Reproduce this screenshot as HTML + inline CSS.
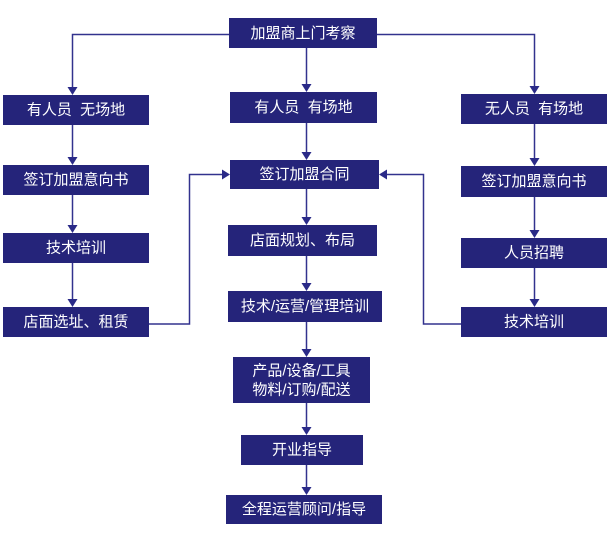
<!DOCTYPE html>
<html><head><meta charset="utf-8"><style>
html,body{margin:0;padding:0;background:#fff;width:610px;height:546px;overflow:hidden}
svg{display:block}
text{font-family:"Liberation Sans","Noto Sans CJK SC",sans-serif;font-size:15px;fill:#fff;text-anchor:middle;dominant-baseline:central}
</style></head><body>
<svg width="610" height="546" viewBox="0 0 610 546" xmlns="http://www.w3.org/2000/svg">
<g fill="#25247a">
<rect x="229" y="18" width="148" height="30"/>
<rect x="3" y="95" width="146" height="30"/>
<rect x="230" y="92" width="147" height="31"/>
<rect x="461" y="94" width="146" height="30"/>
<rect x="3" y="165" width="146" height="30"/>
<rect x="230" y="160" width="149" height="29"/>
<rect x="461" y="166" width="146" height="31"/>
<rect x="3" y="233" width="146" height="30"/>
<rect x="228" y="225" width="149" height="31"/>
<rect x="461" y="238" width="146" height="30"/>
<rect x="3" y="307" width="146" height="30"/>
<rect x="228" y="291" width="154" height="31"/>
<rect x="461" y="307" width="146" height="30"/>
<rect x="233" y="357" width="137" height="46"/>
<rect x="241" y="435" width="122" height="30"/>
<rect x="226" y="495" width="156" height="29"/>
</g>
<g stroke="#32328e" stroke-width="1.5" fill="none">
<polyline points="229,34.5 72.5,34.5 72.5,89"/>
<polyline points="377,34.5 534.5,34.5 534.5,88"/>
<line x1="306.5" y1="48" x2="306.5" y2="86"/>
<line x1="306.5" y1="123" x2="306.5" y2="154"/>
<line x1="306.5" y1="189" x2="306.5" y2="219"/>
<line x1="306.5" y1="256" x2="306.5" y2="285"/>
<line x1="306.5" y1="322" x2="306.5" y2="351"/>
<line x1="306.5" y1="403" x2="306.5" y2="429"/>
<line x1="306.5" y1="465" x2="306.5" y2="489"/>
<line x1="72.5" y1="125" x2="72.5" y2="159"/>
<line x1="72.5" y1="195" x2="72.5" y2="227"/>
<line x1="72.5" y1="263" x2="72.5" y2="301"/>
<line x1="534.5" y1="124" x2="534.5" y2="160"/>
<line x1="534.5" y1="197" x2="534.5" y2="232"/>
<line x1="534.5" y1="268" x2="534.5" y2="301"/>
<polyline points="149,324 189.5,324 189.5,174.5 224,174.5"/>
<polyline points="461,324 423.5,324 423.5,174.5 385,174.5"/>
</g>
<g fill="#2a2a88">
<polygon points="67.5,87 77.5,87 72.5,95"/>
<polygon points="529.5,86 539.5,86 534.5,94"/>
<polygon points="301.5,84 311.5,84 306.5,92"/>
<polygon points="301.5,152 311.5,152 306.5,160"/>
<polygon points="301.5,217 311.5,217 306.5,225"/>
<polygon points="301.5,283 311.5,283 306.5,291"/>
<polygon points="301.5,349 311.5,349 306.5,357"/>
<polygon points="301.5,427 311.5,427 306.5,435"/>
<polygon points="301.5,487 311.5,487 306.5,495"/>
<polygon points="67.5,157 77.5,157 72.5,165"/>
<polygon points="67.5,225 77.5,225 72.5,233"/>
<polygon points="67.5,299 77.5,299 72.5,307"/>
<polygon points="529.5,158 539.5,158 534.5,166"/>
<polygon points="529.5,230 539.5,230 534.5,238"/>
<polygon points="529.5,299 539.5,299 534.5,307"/>
<polygon points="222,169.5 222,179.5 230,174.5"/>
<polygon points="387,169.5 387,179.5 379,174.5"/>
</g>
<text x="303" y="33.5">加盟商上门考察</text>
<text x="76" y="110">有人员&#160;&#160;无场地</text>
<text x="303.5" y="107.5">有人员&#160;&#160;有场地</text>
<text x="534" y="109">无人员&#160;&#160;有场地</text>
<text x="76" y="180">签订加盟意向书</text>
<text x="304.5" y="174.5">签订加盟合同</text>
<text x="534" y="181.5">签订加盟意向书</text>
<text x="76" y="248">技术培训</text>
<text x="302.5" y="240.5">店面规划、布局</text>
<text x="534" y="253">人员招聘</text>
<text x="76" y="322">店面选址、租赁</text>
<text x="305" y="306.5">技术/运营/管理培训</text>
<text x="534" y="322">技术培训</text>
<text x="301.5" y="371">产品/设备/工具</text>
<text x="301.5" y="390">物料/订购/配送</text>
<text x="302" y="450">开业指导</text>
<text x="304" y="509.5">全程运营顾问/指导</text>
</svg>
</body></html>
